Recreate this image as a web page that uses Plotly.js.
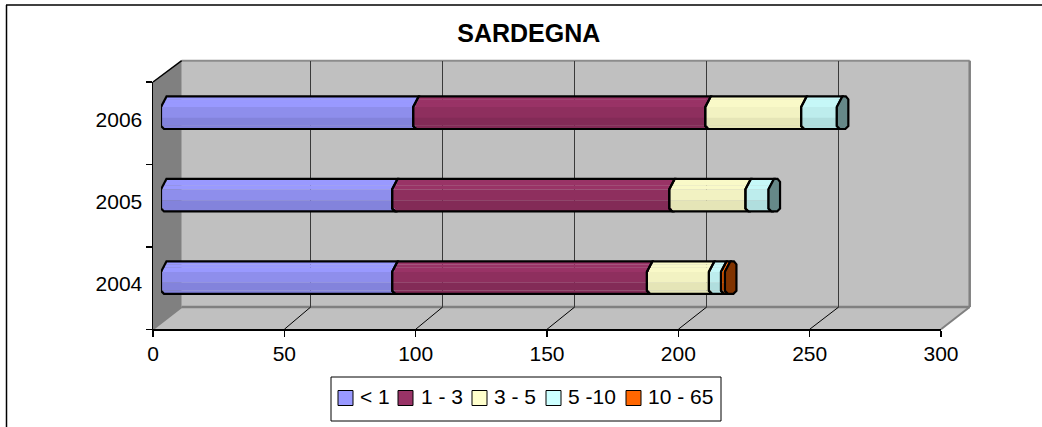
<!DOCTYPE html>
<html><head><meta charset="utf-8">
<script src="https://cdn.plot.ly/plotly-3.0.1.min.js"></script>
<style>html,body{margin:0;padding:0;background:#fff}#c{width:1042px;height:427px}</style>
</head><body><div id="c"></div>
<script>
// ---- data ----
const titleText = 'SARDEGNA';
const categories = ['2004', '2005', '2006'];
const seriesNames = ['< 1', '1 - 3', '3 - 5', '5 -10', '10 - 65'];
const lt1    = [88, 88, 96];
const s1to3  = [97, 105.5, 111.2];
const s3to5  = [23.6, 29, 36.5];
const s5to10 = [4.6, 8.8, 13.6];
const s10to65 = [1.5, 0, 0];
const seriesValues = [lt1, s1to3, s3to5, s5to10, s10to65];
const axisTicks = [0, 50, 100, 150, 200, 250, 300];
// ---- style ----
const W = 1042, H = 427;
const bandColors = [
  ['#9999FF', '#8E8EEC', '#8383DC'],
  ['#993366', '#8E2F5E', '#832B57'],
  ['#F9F9C8', '#F2F2C2', '#E5E5B7'],
  ['#C6F8F8', '#BDEDED', '#B0DEDE'],
  ['#FF6600', '#F06000', '#E05800']
];
const baseColors = ['#9999FF', '#993366', '#FFFFCC', '#CCFFFF', '#FF6600'];
const capColors = ['#4D4D80', '#4D1A33', '#808066', '#668888', '#803300'];
const FONT = '"Liberation Sans", Arial, sans-serif';
// frame geometry in pixels
const F = {x0: 153, x1: 941, y0: 329.3, y1: 82};
const B = {x0: 181.7, x1: 969.7, y0: 307, y1: 60.7};
const GRID = {x0: 178.7, x1: 970.7};
const BAR = {dx: 8, dy: 10.5};
const fx = p => p / W, fy = p => 1 - p / H;
const pxPerX = (F.x1 - F.x0) / 300, pxPerY = (F.y0 - F.y1) / 3;
const barHalf = 16.3 / pxPerY;
// chamfer profile of a bar: rows [top fraction, bottom fraction, inset px, band]
const rows = [[0, .1, 5.5, 0], [.1, .2, 4, 0], [.2, .33, 2, 0], [.33, .66, 0, 1], [.66, .9, 0, 2], [.9, 1, 2.5, 2]];

const traces = [];
traces.push({type: 'scatter', x: [null, null, null], y: categories, xaxis: 'x', yaxis: 'y', showlegend: false, hoverinfo: 'skip', mode: 'markers'});
traces.push({type: 'scatter', x: [null], y: [null], xaxis: 'x2', yaxis: 'y2', showlegend: false, hoverinfo: 'skip', mode: 'markers'});
const yIdx = categories.map((c, i) => i);
const cum = categories.map(() => 0);
const shapes = [], overlay = [];
seriesValues.forEach((vals, s) => {
  const start = cum.slice();
  rows.forEach(r => {
    traces.push({
      type: 'bar', orientation: 'h', name: seriesNames[s], showlegend: false,
      xaxis: 'x3', yaxis: 'y3', y: yIdx, x: vals,
      base: start.map((b, i) => vals[i] > 0 ? b + r[2] / pxPerX : 0),
      width: (r[1] - r[0]) * barHalf * 2 + 0.002,
      offset: barHalf - r[1] * barHalf * 2,
      marker: {color: bandColors[s][r[3]], line: {width: 0}}
    });
  });
  vals.forEach((v, i) => {
    if (!(v > 0)) return;
    const a = start[i], b = a + v, t = i + barHalf, u = i - barHalf;
    const X = (val, px) => (val + px / pxPerX).toFixed(3);
    const Y = (val, px) => (val + px / pxPerY).toFixed(4);
    const path = 'M' + X(a, 5.5) + ',' + t + ' L' + X(a, 0) + ',' + Y(t, -10.5) + ' L' + X(a, 0) + ',' + Y(u, 3) + ' L' + X(a, 3) + ',' + u +
      ' L' + X(b, 3) + ',' + u + ' L' + X(b, 0) + ',' + Y(u, 3) + ' L' + X(b, 0) + ',' + Y(t, -10.5) + ' L' + X(b, 5.5) + ',' + t + ' Z';
    overlay.push({type: 'path', xref: 'x3', yref: 'y3', layer: 'above', path: path, line: {color: '#000', width: 2.2}});
    cum[i] = b;
  });
});
// end caps, drawn on the last non-empty segment of each bar
categories.forEach((c, i) => {
  let last = 0;
  seriesValues.forEach((v, s) => { if (v[i] > 0) last = s; });
  const b = cum[i], t = i + barHalf, u = i - barHalf;
  const X = px => (b + px / pxPerX).toFixed(3);
  const Y = (val, px) => (val + px / pxPerY).toFixed(4);
  overlay.push({type: 'path', xref: 'x3', yref: 'y3', layer: 'above',
    path: 'M' + X(5.5) + ',' + t + ' L' + X(0) + ',' + Y(t, -10.5) + ' L' + X(0) + ',' + Y(u, 3) + ' L' + X(3) + ',' + u + ' L' + X(8.5) + ',' + u +
      ' L' + X(11.5) + ',' + Y(u, 3) + ' L' + X(11.5) + ',' + Y(t, -3) + ' L' + X(9) + ',' + t + ' Z',
    fillcolor: capColors[last], line: {color: '#000', width: 2.2}});
});
const poly = (pts, fill, line) => ({type: 'path', xref: 'paper', yref: 'paper', layer: 'below',
  path: 'M' + pts.map(p => fx(p[0]) + ',' + fy(p[1])).join(' L') + ' Z', fillcolor: fill, line: line || {width: 0}});
const seg = (x0, y0, x1, y1, color, width, layer) => ({type: 'line', xref: 'paper', yref: 'paper', layer: layer || 'below',
  x0: fx(x0), y0: fy(y0), x1: fx(x1), y1: fy(y1), line: {color: color, width: width}});
// walls and floor
shapes.push(poly([[B.x0, B.y1], [B.x1, B.y1], [B.x1, B.y0], [B.x0, B.y0]], '#C0C0C0'));
shapes.push(poly([[F.x0, F.y1], [B.x0, B.y1], [B.x0, B.y0], [F.x0, F.y0]], '#808080'));
shapes.push(poly([[F.x0, F.y0], [F.x1, F.y0], [B.x1, B.y0], [B.x0, B.y0]], '#C0C0C0'));
shapes.push(seg(B.x0, B.y1, B.x1, B.y1, '#8C8C8C', 2));
shapes.push(seg(B.x1, B.y1, B.x1, B.y0, '#808080', 2.5));
shapes.push(seg(B.x0, B.y0, B.x1, B.y0, '#808080', 2.5));
shapes.push(seg(F.x1, F.y0, B.x1, B.y0, '#808080', 2));
shapes.push(seg(F.x0, F.y0, B.x0, B.y0, '#808080', 2));
shapes.push(seg(F.x0, F.y1, B.x0, B.y1, '#000', 1.5));
axisTicks.slice(1, -1).forEach(v => {
  const p = F.x0 + v * pxPerX;
  const q = GRID.x0 + v * (GRID.x1 - GRID.x0) / 300;
  shapes.push(seg(p, F.y0, q, B.y0, '#000', 1));
});
// outer frame
shapes.push(seg(6.5, 5, 6.5, H, '#000', 1.5));
shapes.push(seg(6, 5, W, 5, '#000', 1.5));
// legend
const legendX = [338, 398, 472, 546, 626], legendTextX = [359, 420, 493, 567, 647];
const legendY = 398;
shapes.push({type: 'rect', xref: 'paper', yref: 'paper', layer: 'below', x0: fx(331), x1: fx(721), y0: fy(377), y1: fy(421), fillcolor: '#fff', line: {color: '#000', width: 1}});
const annotations = seriesNames.map((n, s) => ({
  xref: 'paper', yref: 'paper', x: fx(legendTextX[s]), y: fy(legendY - 1.5), xanchor: 'left', yanchor: 'middle', showarrow: false,
  xshift: -1, text: n.replace('<', '&lt;'), font: {family: FONT, size: 21, color: '#000'}
}));
seriesNames.forEach((n, s) => {
  shapes.push({type: 'rect', xref: 'paper', yref: 'paper', layer: 'below', x0: fx(legendX[s]), x1: fx(legendX[s] + 15), y0: fy(legendY - 7.5), y1: fy(legendY + 7.5), fillcolor: baseColors[s], line: {color: '#000', width: 1}});
});

const layout = {
  width: W, height: H, margin: {l: 0, r: 0, t: 0, b: 0, pad: 0}, autosize: false,
  paper_bgcolor: '#fff', plot_bgcolor: 'rgba(0,0,0,0)', barmode: 'overlay', showlegend: false, hovermode: false,
  font: {family: FONT, size: 21, color: '#000'},
  title: {text: '<b>' + titleText + '</b>', x: 528.8 / W, xanchor: 'center', xref: 'paper', y: fy(33), yanchor: 'middle', yref: 'paper', font: {family: FONT, size: 25, color: '#000'}},
  xaxis: {domain: [fx(F.x0), fx(F.x1)], range: [0, 300], tickvals: axisTicks, ticktext: axisTicks.map(String), anchor: 'y', ticks: 'outside', ticklen: 6, tickcolor: '#000', tickwidth: 1.5,
    ticklabelstandoff: -1, showline: true, linecolor: '#000', linewidth: 1.5, showgrid: false, zeroline: false, tickfont: {family: FONT, size: 21, color: '#000'}},
  yaxis: {domain: [fy(F.y0), fy(F.y1)], type: 'category', categoryorder: 'array', categoryarray: categories, range: [-0.5, 2.5], tickson: 'boundaries', anchor: 'x', ticks: 'outside', ticklen: 6, tickcolor: '#000', tickwidth: 1.5,
    ticklabelstandoff: 5, ticklabelshift: -4, showline: true, linecolor: '#000', linewidth: 1.5, showgrid: false, zeroline: false, tickfont: {family: FONT, size: 21, color: '#000'}},
  xaxis2: {domain: [fx(GRID.x0), fx(GRID.x1)], range: [0, 300], anchor: 'y2', tickvals: axisTicks.slice(1, -1), showgrid: true, gridcolor: '#3a3a3a', gridwidth: 1, showticklabels: false, ticks: '', zeroline: false, showline: false},
  yaxis2: {domain: [fy(B.y0), fy(B.y1)], range: [0, 1], anchor: 'x2', showgrid: false, showticklabels: false, ticks: '', zeroline: false, showline: false},
  xaxis3: {domain: [fx(F.x0 + BAR.dx), fx(F.x1 + BAR.dx)], range: [0, 300], anchor: 'y3', visible: false},
  yaxis3: {domain: [fy(F.y0 - BAR.dy), fy(F.y1 - BAR.dy)], range: [-0.5, 2.5], anchor: 'x3', visible: false},
  shapes: shapes.concat(overlay), annotations: annotations
};
Plotly.newPlot('c', traces, layout, {staticPlot: true, displayModeBar: false});
</script></body></html>
